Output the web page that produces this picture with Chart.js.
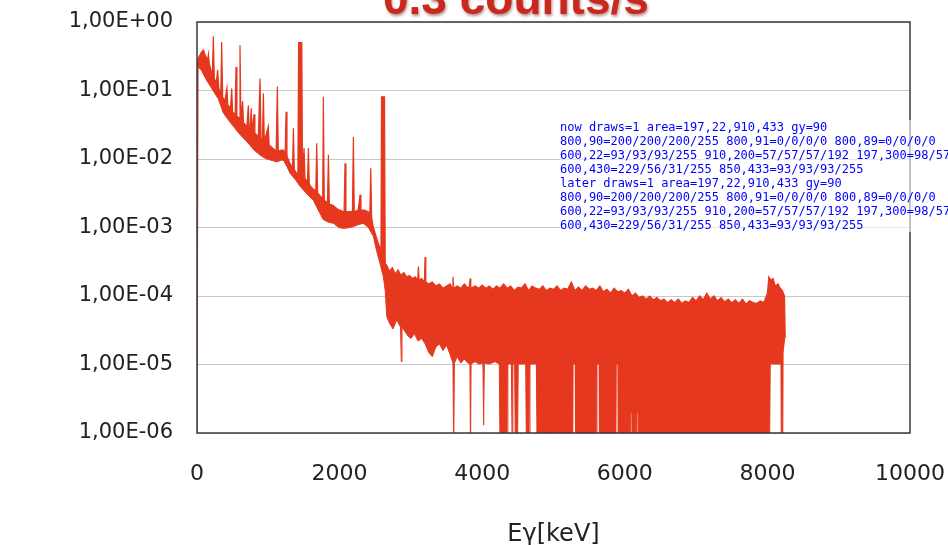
<!DOCTYPE html>
<html>
<head>
<meta charset="utf-8">
<script src="https://cdn.jsdelivr.net/npm/chart.js@4.4.0/dist/chart.umd.min.js"></script>
<style>
  html, body { margin: 0; padding: 0; background: #fff; overflow: hidden; }
  #wrap { position: relative; width: 948px; height: 545px; }
  canvas { position: absolute; left: 0; top: 0; }
  #title {
    position: absolute; left: 383px; top: -25px;
    font: bold 46px "Liberation Sans", sans-serif; line-height: 46px;
    color: #c9281c; text-shadow: 1px 2px 3px rgba(90, 0, 0, 0.45);
    white-space: nowrap;
  }
  #dbg { position: absolute; left: 560px; top: 120px; width: 380px; font: 12px monospace; color: #00f; background: rgba(255,255,255,0.6); }
</style>
</head>
<body>
<div id="wrap">
  <canvas id="chart" width="948" height="545"></canvas>
  <div id="title">0.3 counts/s</div>
  <div id="dbg"></div>
</div>
<script>
const xTicks = [0, 2000, 4000, 6000, 8000, 10000];
const yTicks = [1e-6, 1e-5, 1e-4, 1e-3, 1e-2, 1e-1, 1];
const yTickLabels = ["1,00E-06", "1,00E-05", "1,00E-04", "1,00E-03", "1,00E-02", "1,00E-01", "1,00E+00"];

const eHi = [
  0, 20, 60, 90, 120, 150, 160, 172, 200, 215,
  229, 243, 270, 290, 305, 333, 346, 360, 390, 420,
  432, 470, 486, 500, 535, 547, 560, 590, 603, 616,
  640, 652, 700, 720, 732, 748, 760, 772, 800, 812,
  860, 884, 898, 918, 931, 944, 1000, 1012, 1060, 1110,
  1127, 1140, 1180, 1211, 1236, 1249, 1262, 1300, 1340, 1352,
  1365, 1400, 1415, 1425, 1470, 1480, 1501, 1515, 1550, 1562,
  1575, 1610, 1666, 1679, 1692, 1740, 1763, 1772, 1785, 1830,
  1843, 1856, 1913, 1960, 2000, 2063, 2076, 2089, 2140, 2180,
  2193, 2206, 2260, 2287, 2300, 2350, 2400, 2424, 2437, 2450,
  2474, 2520, 2560, 2580, 2588, 2630, 2640, 2661, 2700, 2740,
  2780, 2820, 2860, 2900, 2940, 2980, 3020, 3060, 3095, 3105,
  3115, 3150, 3189, 3199, 3209, 3250, 3300, 3350, 3400, 3450,
  3500, 3550, 3580, 3590, 3600, 3650, 3700, 3750, 3800, 3820,
  3830, 3840, 3900, 3950, 4000, 4050, 4100, 4150, 4200, 4250,
  4300, 4350, 4400, 4450, 4500, 4550, 4600, 4650, 4700, 4750,
  4800, 4850, 4900, 4950, 5000, 5050, 5100, 5150, 5200, 5250,
  5300, 5350, 5400, 5450, 5500, 5550, 5600, 5650, 5700, 5750,
  5800, 5850, 5900, 5950, 6000, 6050, 6100, 6150, 6200, 6250,
  6300, 6350, 6400, 6450, 6500, 6550, 6600, 6650, 6700, 6750,
  6800, 6850, 6900, 6950, 7000, 7050, 7100, 7150, 7200, 7250,
  7300, 7350, 7400, 7450, 7500, 7550, 7600, 7650, 7700, 7750,
  7800, 7850, 7900, 7950, 8000, 8020, 8050, 8080, 8110, 8150,
  8180, 8210, 8240, 8250
];
const cHi = [
  0.25, 0.30, 0.36, 0.39, 0.32, 0.28, 0.34, 0.25, 0.19, 0.17,
  0.62, 0.15, 0.13, 0.20, 0.11, 0.085, 0.51, 0.08, 0.07, 0.11,
  0.062, 0.055, 0.107, 0.048, 0.045, 0.22, 0.042, 0.04, 0.46, 0.038,
  0.07, 0.034, 0.03, 0.061, 0.029, 0.028, 0.055, 0.026, 0.045, 0.024,
  0.021, 0.15, 0.02, 0.019, 0.091, 0.018, 0.03, 0.016, 0.0145, 0.013,
  0.114, 0.013, 0.0135, 0.0135, 0.012, 0.049, 0.011, 0.0088, 0.0075, 0.028,
  0.007, 0.0062, 0.006, 0.5, 0.5, 0.0055, 0.0145, 0.0052, 0.0046, 0.0145,
  0.0043, 0.0038, 0.0034, 0.017, 0.0032, 0.0028, 0.0026, 0.081, 0.0025, 0.0023,
  0.0115, 0.0022, 0.0021, 0.0019, 0.0018, 0.0017, 0.0087, 0.0017, 0.0017, 0.0017,
  0.021, 0.0017, 0.0018, 0.003, 0.0018, 0.0018, 0.0017, 0.0016, 0.0073, 0.0014,
  0.001, 0.0007, 0.00052, 0.00045, 0.081, 0.081, 0.0003, 0.00028, 0.00023, 0.00026,
  0.00021, 0.00024, 0.0002, 0.00022, 0.00019, 0.0002, 0.00018, 0.00019, 0.00017, 0.00027,
  0.00017, 0.00018, 0.00016, 0.00037, 0.00016, 0.00015, 0.00016, 0.00014, 0.00015, 0.00013,
  0.00014, 0.00015, 0.00013, 0.00019, 0.00013, 0.00014, 0.00013, 0.00015, 0.00013, 0.00014,
  0.00018, 0.00013, 0.00014, 0.00013, 0.000145, 0.00013, 0.00014, 0.000125, 0.00014, 0.00013,
  0.00015, 0.00013, 0.00014, 0.00012, 0.000135, 0.00013, 0.00015, 0.00012, 0.00014, 0.00013,
  0.000125, 0.00014, 0.00012, 0.00013, 0.000125, 0.00014, 0.00012, 0.00013, 0.000125, 0.00016,
  0.00012, 0.000135, 0.00012, 0.00014, 0.000125, 0.00013, 0.00012, 0.00014, 0.000115, 0.000125,
  0.00011, 0.00013, 0.000115, 0.00012, 0.00011, 0.000125, 0.0001, 0.00011, 0.000095, 0.0001,
  0.00009, 0.0001, 0.000088, 0.000095, 0.000085, 0.00009, 0.00008, 0.000088, 0.00008, 0.00009,
  0.000078, 0.000085, 0.00008, 0.000095, 0.000085, 0.0001, 0.000088, 0.00011, 0.00009, 0.0001,
  0.000085, 0.000095, 0.000082, 0.00009, 0.00008, 0.000088, 0.000078, 0.00009, 0.000076, 0.000085,
  0.00008, 0.000078, 0.000085, 0.00008, 0.00011, 0.00019, 0.00017, 0.00018, 0.00014, 0.00015,
  0.00013, 0.00012, 0.0001, 0.000025
];
const eLo = [
  0, 15, 60, 120, 200, 300, 370, 450, 510, 600,
  697, 800, 884, 960, 1024, 1118, 1170, 1211, 1260, 1305,
  1380, 1445, 1540, 1632, 1700, 1772, 1840, 1913, 1990, 2053,
  2120, 2193, 2260, 2333, 2404, 2474, 2520, 2567, 2614, 2640,
  2661, 2700, 2750, 2800, 2855, 2865, 2875, 2920, 2960, 3000,
  3050, 3100, 3150, 3200, 3250, 3300, 3350, 3400, 3450, 3500,
  3550, 3590, 3600, 3610, 3650, 3700, 3750, 3800, 3828, 3836,
  3844, 3900, 3950, 4010, 4020, 4030, 4100, 4180, 4240, 4250,
  4350, 4360, 4410, 4420, 4430, 4455, 4465, 4495, 4505, 4610,
  4620, 4660, 4670, 4760, 4770, 5270, 5275, 5305, 5310, 5605,
  5610, 5640, 5645, 5875, 5880, 5905, 5910, 6080, 6085, 6100,
  6105, 6165, 6170, 6185, 6190, 8030, 8040, 8190, 8195, 8215,
  8220, 8240, 8250
];
const cLo = [
  5e-7, 0.22, 0.2, 0.15, 0.11, 0.075, 0.047, 0.036, 0.03, 0.023,
  0.018, 0.0135, 0.0114, 0.0102, 0.0097, 0.0091, 0.0095, 0.0097, 0.0078, 0.0062,
  0.005, 0.004, 0.0031, 0.0025, 0.0018, 0.0013, 0.0012, 0.00115, 0.001, 0.00097,
  0.00099, 0.00103, 0.0011, 0.00115, 0.001, 0.00074, 0.00045, 0.0003, 0.00019, 0.00012,
  5e-5, 4e-5, 3.3e-5, 4.5e-5, 3.5e-5, 1.1e-5, 3.5e-5, 3e-5, 2.6e-5, 2.4e-5,
  2.8e-5, 2.2e-5, 2.4e-5, 2e-5, 1.5e-5, 1.3e-5, 1.8e-5, 2e-5, 1.6e-5, 1.9e-5,
  1.4e-5, 1.05e-5, 5e-7, 1.05e-5, 1.3e-5, 1.05e-5, 1.2e-5, 1.05e-5, 1.02e-5, 5e-7,
  1.02e-5, 1.1e-5, 1.02e-5, 1.05e-5, 1.3e-6, 1.05e-5, 1.02e-5, 1.1e-5, 1.02e-5, 5e-7,
  5e-7, 1.02e-5, 1.02e-5, 5e-7, 1.02e-5, 1.02e-5, 5e-7, 5e-7, 1.02e-5, 1.02e-5,
  5e-7, 5e-7, 1.02e-5, 1.02e-5, 5e-7, 5e-7, 1.02e-5, 1.02e-5, 5e-7, 5e-7,
  1.02e-5, 1.02e-5, 5e-7, 5e-7, 1.02e-5, 1.02e-5, 5e-7, 5e-7, 2e-6, 2e-6,
  5e-7, 5e-7, 2e-6, 2e-6, 5e-7, 5e-7, 1.02e-5, 1.02e-5, 5e-7, 5e-7,
  1.5e-5, 2.3e-5, 2.5e-5
];

const red = "#e5381f";
const toPoints = (xs, ys) => xs.map((x, i) => ({ x: x, y: ys[i] }));
let draws = 0;
const frame = {
  id: "frame",
  afterDraw(chart) {
    draws++;
    const { ctx, chartArea: a } = chart;
    ctx.save();
    ctx.strokeStyle = "#3a3a3a";
    ctx.lineWidth = 1.5;
    ctx.strokeRect(a.left, a.top, a.right - a.left, a.bottom - a.top);
    ctx.restore();
  }
};

const chart = new Chart(document.getElementById("chart"), {
  type: "line",
  data: {
    datasets: [
      { label: "max", data: toPoints(eHi, cHi), borderColor: red, backgroundColor: red, borderWidth: 1.2, pointRadius: 0, tension: 0, fill: "+1" },
      { label: "min", data: toPoints(eLo, cLo), borderColor: red, backgroundColor: red, borderWidth: 1, pointRadius: 0, tension: 0, fill: false },
    ],
  },
  options: {
    responsive: false,
    animation: false,
    layout: { padding: { top: 22, right: 38, left: 0, bottom: 0 } },
    plugins: { legend: { display: false }, tooltip: { enabled: false } },
    scales: {
      x: {
        type: "linear", min: 0, max: 10000,
        afterBuildTicks: (s) => { s.ticks = xTicks.map((v) => ({ value: v })); },
        ticks: { padding: 2, maxRotation: 0, color: "#222", font: { family: "DejaVu Sans", size: 22 }, callback: (v) => String(v) },
        grid: { drawOnChartArea: false, tickLength: 26, tickColor: "rgba(0,0,0,0)" },
        border: { display: false },
        title: { display: true, text: "Eγ[keV]", color: "#222", font: { family: "DejaVu Sans", size: 24 }, padding: { top: 0, bottom: -4 } },
        afterFit: (s) => { s.height = 112; },
      },
      y: {
        type: "logarithmic", min: 1e-6, max: 1,
        afterBuildTicks: (s) => { s.ticks = yTicks.map((v) => ({ value: v })); },
        ticks: { padding: 4, color: "#222", font: { family: "DejaVu Sans", size: 21 }, callback: (v, i) => yTickLabels[i] },
        grid: { color: "#c8c8c8", lineWidth: 1, tickLength: 20, tickColor: "rgba(0,0,0,0)" },
        border: { display: false },
        afterFit: (s) => { s.width = 197; },
      },
    },
  },
  plugins: [frame],
});

function px(x, y) {
  const d = chart.ctx.getImageData(x, y, 1, 1).data;
  return x + "," + y + "=" + d[0] + "/" + d[1] + "/" + d[2] + "/" + d[3];
}
function report(tag) {
  const a = chart.chartArea;
  const gy = Math.round(chart.scales.y.getPixelForValue(0.1));
  let s = tag + " draws=" + draws + " area=" + [a.left, a.top, a.right, a.bottom].map(Math.round).join(",") + " gy=" + gy + "\n";
  s += px(800, gy) + " " + px(800, gy + 1) + " " + px(800, gy - 1) + "\n";
  s += px(600, Math.round(a.top)) + " " + px(Math.round(a.right), 200) + " " + px(Math.round(a.left), 300) + "\n";
  s += px(600, 430) + " " + px(850, 433) + "\n";
  return s;
}
const dbg = document.getElementById("dbg");
dbg.style.whiteSpace = "pre";
dbg.textContent = report("now");
setTimeout(() => { dbg.textContent += report("later"); }, 300);
</script>
</body>
</html>
